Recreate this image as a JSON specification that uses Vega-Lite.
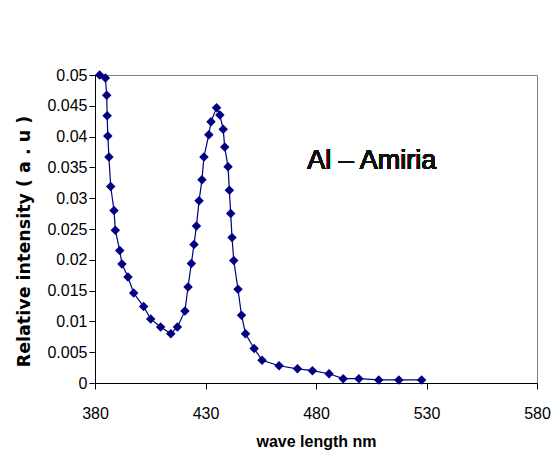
{
  "$schema": "https://vega.github.io/schema/vega-lite/v6.json",
  "autosize": "none",
  "width": 442,
  "height": 308,
  "padding": {"left": 95, "top": 75, "right": 14, "bottom": 85},
  "background": "white",
  "config": {
    "view": {"stroke": "#808080", "strokeWidth": 1},
    "axis": {
      "grid": false,
      "domainColor": "black",
      "tickColor": "black",
      "labelColor": "black",
      "titleColor": "black",
      "labelFont": "'Liberation Sans', Arial, sans-serif",
      "labelFontSize": 16,
      "titleFontWeight": "bold",
      "tickSize": 6
    }
  },
  "data": {
    "values": [
      {"wl": 382.1, "v": 0.05},
      {"wl": 384.7, "v": 0.0495},
      {"wl": 385.3, "v": 0.0467},
      {"wl": 385.5, "v": 0.0434},
      {"wl": 385.8, "v": 0.0401},
      {"wl": 386.3, "v": 0.0367},
      {"wl": 387.1, "v": 0.0319},
      {"wl": 388.6, "v": 0.028},
      {"wl": 389.2, "v": 0.0248},
      {"wl": 391.2, "v": 0.0215},
      {"wl": 392.2, "v": 0.0193},
      {"wl": 394.9, "v": 0.0172},
      {"wl": 397.5, "v": 0.0146},
      {"wl": 402.0, "v": 0.0124},
      {"wl": 405.2, "v": 0.0104},
      {"wl": 409.7, "v": 0.0091},
      {"wl": 414.3, "v": 0.008},
      {"wl": 417.3, "v": 0.0091},
      {"wl": 420.7, "v": 0.0117},
      {"wl": 422.1, "v": 0.0156},
      {"wl": 423.6, "v": 0.0194},
      {"wl": 424.8, "v": 0.0225},
      {"wl": 425.9, "v": 0.0255},
      {"wl": 427.1, "v": 0.0296},
      {"wl": 428.4, "v": 0.033},
      {"wl": 429.3, "v": 0.0367},
      {"wl": 431.5, "v": 0.0403},
      {"wl": 432.5, "v": 0.0424},
      {"wl": 435.0, "v": 0.0447},
      {"wl": 436.5, "v": 0.0435},
      {"wl": 438.0, "v": 0.0412},
      {"wl": 438.7, "v": 0.0383},
      {"wl": 440.2, "v": 0.0351},
      {"wl": 440.8, "v": 0.0313},
      {"wl": 441.4, "v": 0.0275},
      {"wl": 442.0, "v": 0.0236},
      {"wl": 442.8, "v": 0.0199},
      {"wl": 444.7, "v": 0.0152},
      {"wl": 446.3, "v": 0.011},
      {"wl": 448.1, "v": 0.008},
      {"wl": 452.0, "v": 0.0056},
      {"wl": 455.6, "v": 0.0037},
      {"wl": 463.3, "v": 0.0028},
      {"wl": 471.6, "v": 0.0023},
      {"wl": 478.4, "v": 0.002},
      {"wl": 485.9, "v": 0.0015},
      {"wl": 492.3, "v": 0.0007},
      {"wl": 499.4, "v": 0.0007},
      {"wl": 508.4, "v": 0.0005},
      {"wl": 517.5, "v": 0.0005},
      {"wl": 527.8, "v": 0.0005}
    ]
  },
  "encoding": {
    "x": {
      "field": "wl",
      "type": "quantitative",
      "scale": {"domain": [380, 580], "nice": false, "zero": false},
      "axis": {
        "title": "wave length nm",
        "values": [380, 430, 480, 530, 580],
        "labelPadding": 16,
        "titlePadding": 12,
        "titleFont": "'Liberation Sans', Arial, sans-serif",
        "titleFontSize": 16,
        "labelFlush": false
      }
    },
    "y": {
      "field": "v",
      "type": "quantitative",
      "scale": {"domain": [0, 0.05], "nice": false},
      "axis": {
        "title": "Relative intensity ( a . u )",
        "values": [0, 0.005, 0.01, 0.015, 0.02, 0.025, 0.03, 0.035, 0.04, 0.045, 0.05],
        "format": "~g",
        "labelPadding": 2,
        "titleFont": "'DejaVu Sans', sans-serif",
        "titleFontSize": 17.5,
        "titleX": -71,
        "titleY": 166,
        "titleAlign": "center",
        "titleBaseline": "middle",
        "labelFlush": false
      }
    }
  },
  "layer": [
    {
      "mark": {"type": "line", "color": "#000080", "strokeWidth": 1.2, "clip": false}
    },
    {
      "mark": {"type": "point", "shape": "diamond", "filled": true, "color": "#000080", "opacity": 1, "size": 90, "clip": false}
    },
    {
      "mark": {"type": "text", "text": "Al – Amiria", "align": "left", "baseline": "alphabetic", "font": "'Liberation Sans', Arial, sans-serif", "fontSize": 27, "color": "#111111"},
      "encoding": {
        "x": {"datum": 476},
        "y": {"datum": 0.0347}
      }
    }
  ]
}
